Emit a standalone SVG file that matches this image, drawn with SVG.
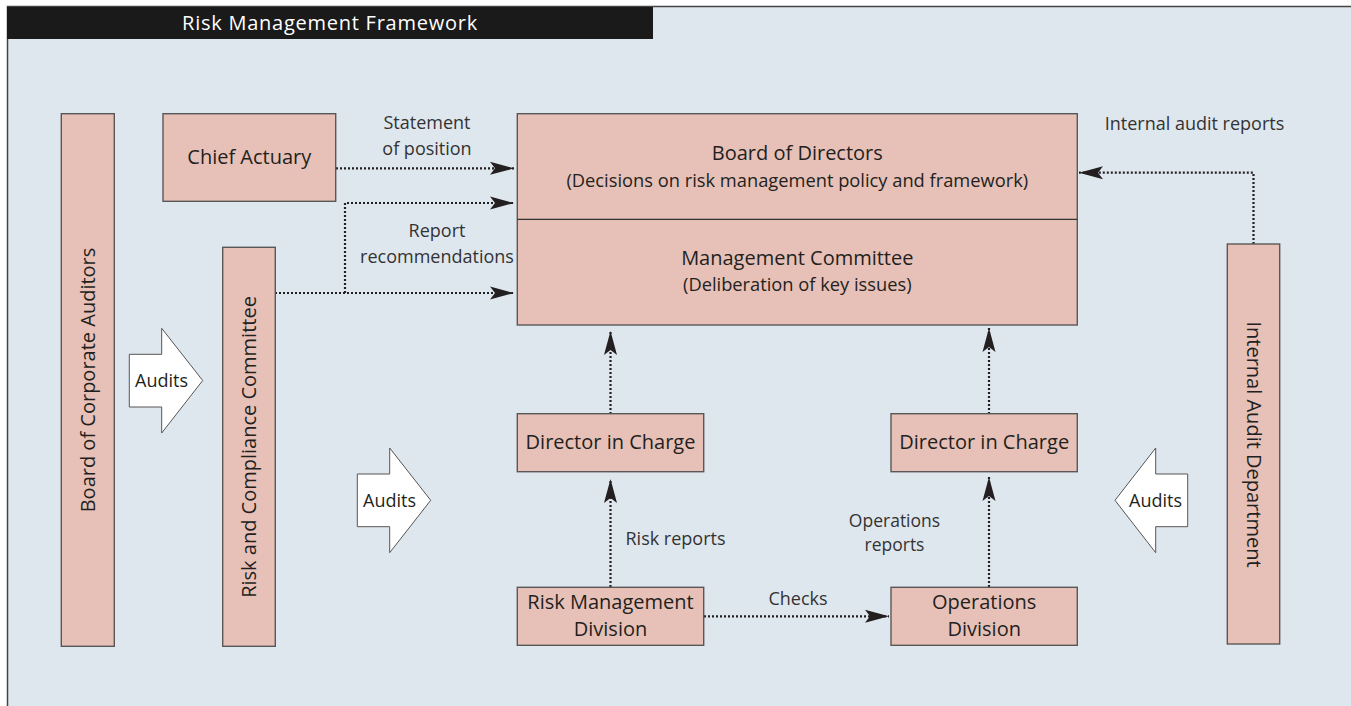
<svg xmlns="http://www.w3.org/2000/svg" width="1351" height="706" viewBox="0 0 1351 706">
<style>
.bg{fill:#dfe7ee}
.box{fill:#e7c1b7;stroke:#585858;stroke-width:1.4}
.audit{fill:#ffffff;stroke:#555;stroke-width:1}
.t{font-family:"Open Sans","Noto Sans","Liberation Sans",sans-serif;font-size:20px;fill:#231f20;text-anchor:middle}
.s{font-family:"Open Sans","Noto Sans","Liberation Sans",sans-serif;font-size:18.3px;fill:#231f20;text-anchor:middle}
.l{font-family:"Open Sans","Noto Sans","Liberation Sans",sans-serif;font-size:18px;fill:#333;text-anchor:middle}
.a{font-family:"Open Sans","Noto Sans","Liberation Sans",sans-serif;font-size:18px;fill:#231f20;text-anchor:middle}
.c{fill:none;stroke:#231f20;stroke-width:2.2;stroke-dasharray:2 2;marker-end:url(#ah)}
</style>
<defs>
<marker id="ah" viewBox="0 0 24 14" refX="24" refY="7" markerWidth="24" markerHeight="14" markerUnits="userSpaceOnUse" orient="auto">
<path d="M0,0.5 L24,7 L0,13.5 L5,7 Z" fill="#231f20"/>
</marker>
</defs>
<rect x="0" y="0" width="1351" height="706" fill="#ffffff"/>
<rect class="bg" x="7.5" y="6.5" width="1344" height="700"/>
<path d="M7.5,706 V6.5 H1351" fill="none" stroke="#444" stroke-width="1.5"/>
<g id="title">
<rect x="7" y="7" width="646" height="32" fill="#1a1a1a"/>
<text class="t" x="330" y="29.5" style="fill:#ffffff;letter-spacing:0.75px">Risk Management Framework</text>
</g>
<g id="connectors">
<path class="c" d="M336,168.3 H514"/>
<path class="c" d="M345,293 V203 H514"/>
<path class="c" d="M275,293 H514"/>
<path class="c" d="M610.5,414 V331"/>
<path class="c" d="M989,414 V328"/>
<path class="c" d="M610.5,587 V479"/>
<path class="c" d="M989,587 V477"/>
<path class="c" d="M704,616.3 H889"/>
<path class="c" d="M1253.5,244 V172.7 H1079"/>
</g>
<g id="labels">
<text class="l" x="427" y="129.3">Statement</text>
<text class="l" x="427" y="155">of position</text>
<text class="l" x="437" y="236.5">Report</text>
<text class="l" x="437" y="262.5">recommendations</text>
<text class="l" x="1194.5" y="130">Internal audit reports</text>
<text class="l" x="675.5" y="545">Risk reports</text>
<text class="l" x="798" y="605">Checks</text>
<text class="l" x="894.5" y="527" style="font-size:17.5px">Operations</text>
<text class="l" x="894.5" y="551" style="font-size:17.5px">reports</text>
</g>
<g id="board-auditors">
<rect class="box" x="61.3" y="113.7" width="53" height="532.6"/>
<text class="t" transform="translate(87.8,380) rotate(-90)" y="7">Board of Corporate Auditors</text>
</g>
<g id="chief-actuary">
<rect class="box" x="163" y="113.7" width="172.7" height="87.6"/>
<text class="t" x="249.3" y="163.5">Chief Actuary</text>
</g>
<g id="risk-compliance">
<rect class="box" x="222.7" y="247.3" width="52.6" height="399"/>
<text class="t" transform="translate(249,447) rotate(-90)" y="7">Risk and Compliance Committee</text>
</g>
<g id="board-directors">
<rect class="box" x="517.3" y="113.7" width="560" height="211.3"/>
<line x1="517.3" y1="219.3" x2="1077.3" y2="219.3" stroke="#333" stroke-width="1.2"/>
<text class="t" x="797.3" y="159.5">Board of Directors</text>
<text class="s" x="797.3" y="186.5">(Decisions on risk management policy and framework)</text>
<text class="t" x="797.3" y="264.5">Management Committee</text>
<text class="s" x="797.3" y="291">(Deliberation of key issues)</text>
</g>
<g id="internal-audit">
<rect class="box" x="1227.3" y="244" width="52.4" height="400"/>
<text class="t" transform="translate(1253.5,444.5) rotate(90)" y="7">Internal Audit Department</text>
</g>
<g id="director-1">
<rect class="box" x="517.3" y="413.7" width="186.4" height="58"/>
<text class="t" x="610.5" y="449">Director in Charge</text>
</g>
<g id="director-2">
<rect class="box" x="891" y="413.7" width="186.3" height="58"/>
<text class="t" x="984.2" y="449">Director in Charge</text>
</g>
<g id="risk-division">
<rect class="box" x="517.3" y="587.3" width="186.4" height="58"/>
<text class="t" x="610.5" y="609">Risk Management</text>
<text class="t" x="610.5" y="635.5">Division</text>
</g>
<g id="operations-division">
<rect class="box" x="891" y="587.3" width="186.3" height="58"/>
<text class="t" x="984.2" y="609">Operations</text>
<text class="t" x="984.2" y="635.5">Division</text>
</g>
<g id="audits-1">
<path class="audit" d="M129.3,354.3 H161.7 V328.3 L202.7,380.5 L161.7,433 V407 H129.3 Z"/>
<text class="a" x="161.5" y="386.5">Audits</text>
</g>
<g id="audits-2">
<path class="audit" d="M357.3,474 H389.7 V448 L430.7,500.3 L389.7,552.7 V526.7 H357.3 Z"/>
<text class="a" x="389.5" y="506.5">Audits</text>
</g>
<g id="audits-3">
<path class="audit" d="M1187.7,474 H1155.7 V448 L1115,500.3 L1155.7,552.7 V526.7 H1187.7 Z"/>
<text class="a" x="1155.5" y="506.5">Audits</text>
</g>
</svg>
